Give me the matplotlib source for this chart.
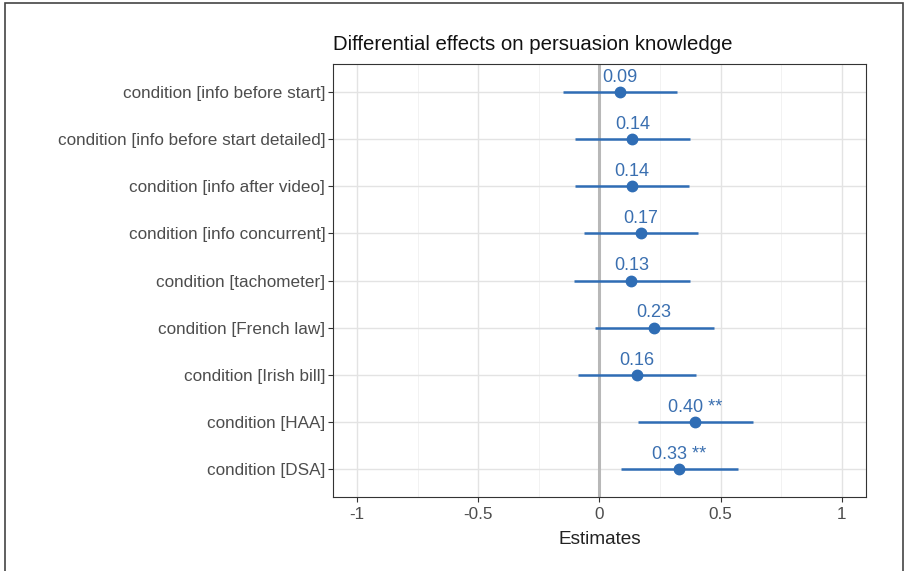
import numpy as np
import matplotlib.pyplot as plt
from matplotlib.patches import Rectangle

plt.rcParams['font.family'] = ['Liberation Sans', 'DejaVu Sans']

# terms, top to bottom
terms = ['condition [info before start]',
         'condition [info before start detailed]',
         'condition [info after video]',
         'condition [info concurrent]',
         'condition [tachometer]',
         'condition [French law]',
         'condition [Irish bill]',
         'condition [HAA]',
         'condition [DSA]']
estimates = [0.085, 0.136, 0.134, 0.170, 0.132, 0.226, 0.156, 0.396, 0.329]
ci_low = [-0.150, -0.102, -0.099, -0.064, -0.105, -0.020, -0.087, 0.160, 0.088]
ci_high = [0.322, 0.375, 0.368, 0.407, 0.373, 0.471, 0.399, 0.632, 0.572]
labels = ['0.09', '0.14', '0.14', '0.17', '0.13', '0.23', '0.16', '0.40 **', '0.33 **']

blue = '#2f6db5'
fig = plt.figure(figsize=(9.11, 5.71), dpi=100)
ax = fig.add_axes([0.3655, 0.1296, 0.5851, 0.7583])

ypos = np.arange(len(terms), 0, -1)

# grid (ggplot theme_bw look)
for x in [-0.75, -0.25, 0.25, 0.75]:
    ax.axvline(x, color='#f0f0f0', lw=0.6, zorder=0)
for x in [-1, -0.5, 0.5, 1]:
    ax.axvline(x, color='#e3e3e3', lw=1.0, zorder=0)
for y in ypos:
    ax.axhline(y, color='#e3e3e3', lw=1.0, zorder=0)
ax.axvline(0, color='#b8b8b8', lw=2.2, zorder=1)

ax.hlines(ypos, ci_low, ci_high, color=blue, lw=1.8, zorder=2)
ax.plot(estimates, ypos, 'o', color=blue, ms=7.5, zorder=3)
for e, y, lab in zip(estimates, ypos, labels):
    ax.text(e, y + 0.13, lab, color='#3a6fb0', fontsize=13, ha='center',
            va='bottom', zorder=4)

ax.set_xlim(-1.1, 1.1)
ax.set_ylim(0.4, len(terms) + 0.6)
ax.set_xticks([-1, -0.5, 0, 0.5, 1])
ax.set_xticklabels(['-1', '-0.5', '0', '0.5', '1'])
ax.set_yticks(ypos)
ax.set_yticklabels(terms)
ax.tick_params(axis='both', labelsize=12.3, labelcolor='#4d4d4d', color='#333333',
               length=3.5, width=0.8, pad=2)
ax.tick_params(axis='x', pad=4)
for s in ax.spines.values():
    s.set_color('#333333')
    s.set_linewidth(0.8)

ax.set_xlabel('Estimates', fontsize=13.7, color='#222222', labelpad=6)
ax.set_title('Differential effects on persuasion knowledge', fontsize=14.7,
             loc='left', color='#111111', pad=10)

# outer frame of the original image
fig.patches.append(Rectangle((5 / 911, -0.1), 898 / 911, 1.1 - 3 / 571, transform=fig.transFigure,
                             fill=False, edgecolor='#444444', lw=1.2))

fig.savefig('out.png', dpi=100)
